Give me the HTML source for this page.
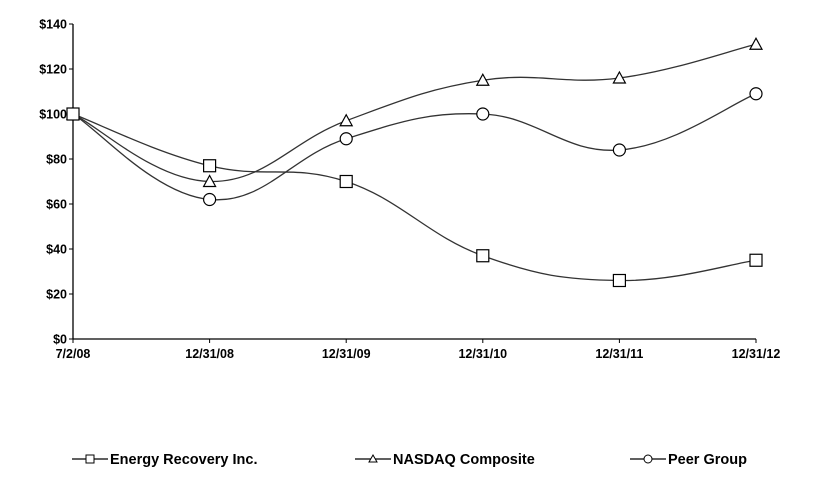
<!DOCTYPE html>
<html><head><meta charset="utf-8"><style>
body{margin:0;background:#fff;}
svg{display:block;font-family:"Liberation Sans",Arial,sans-serif;}
</style></head><body>
<svg width="816" height="478" viewBox="0 0 816 478">
<g id="axes"></g><g id="series"></g><g id="legend"></g>
</svg>
<script>
const categories=["7/2/08","12/31/08","12/31/09","12/31/10","12/31/11","12/31/12"];
const energyValues=[100,77,70,37,26,35];
const nasdaqValues=[100,70,97,115,116,131];
const peerValues=[100,62,89,100,84,109];
const yTicks=[0,20,40,60,80,100,120,140];
const seriesNames=["Energy Recovery Inc.","NASDAQ Composite","Peer Group"];
const NS="http://www.w3.org/2000/svg";
const X0=73,X1=756,Y0=339,Y1=24,YMAX=140;
const xs=i=>X0+(X1-X0)*i/(categories.length-1);
const ys=v=>Y0-(Y0-Y1)*v/YMAX;
function mk(t,a,p){const e=document.createElementNS(NS,t);for(const k in a)e.setAttribute(k,a[k]);p.appendChild(e);return e;}
const ax=document.getElementById('axes');
const yl=mk('line',{x1:X0,y1:Y0,x2:X0,y2:Y1,stroke:'#000','stroke-width':1.3},ax);

const xl=mk('line',{x1:X0,y1:Y0,x2:X1,y2:Y0,stroke:'#000','stroke-width':1.3},ax);

yTicks.forEach(v=>{
 mk('line',{x1:X0-4,y1:ys(v),x2:X0,y2:ys(v),stroke:'#000'},ax);
 const t=mk('text',{x:X0-6,y:ys(v)+4.5,'text-anchor':'end','font-size':12.5,'font-weight':'bold'},ax);
 t.textContent='$'+v;
 
});
categories.forEach((c,i)=>{
 mk('line',{x1:xs(i),y1:Y0,x2:xs(i),y2:Y0+4,stroke:'#000'},ax);
 const t=mk('text',{x:xs(i),y:Y0+19,'text-anchor':'middle','font-size':12.5,'font-weight':'bold'},ax);
 t.textContent=c;
 
});
function smooth(pts){let d=`M${pts[0][0]},${pts[0][1]}`;
 for(let i=0;i<pts.length-1;i++){const p0=pts[i-1]||pts[i],p1=pts[i],p2=pts[i+1],p3=pts[i+2]||p2;
  const k=0.2;
  d+=` C${p1[0]+(p2[0]-p0[0])*k},${p1[1]+(p2[1]-p0[1])*k} ${p2[0]-(p3[0]-p1[0])*k},${p2[1]-(p3[1]-p1[1])*k} ${p2[0]},${p2[1]}`;}
 return d;}
function marker(type,x,y,g){
 if(type==='square')return mk('rect',{x:x-6,y:y-6,width:12,height:12,fill:'#fff',stroke:'#000','stroke-width':1.2},g);
 if(type==='triangle')return mk('path',{d:`M${x},${y-6}L${x+6},${y+5}L${x-6},${y+5}Z`,fill:'#fff',stroke:'#000','stroke-width':1.2},g);
 return mk('circle',{cx:x,cy:y,r:6,fill:'#fff',stroke:'#000','stroke-width':1.2},g);}
const sg=document.getElementById('series');
const defs=[[peerValues,'circle','peer-group'],[nasdaqValues,'triangle','nasdaq-composite'],[energyValues,'square','energy-recovery']];
defs.forEach(([vals,type,name])=>{
 const g=mk('g',{},sg);
 
 const pts=vals.map((v,i)=>[xs(i),ys(v)]);
 const p=mk('path',{d:smooth(pts),fill:'none',stroke:'#333','stroke-width':1.3},g);
 
 pts.forEach(pt=>{const m=marker(type,pt[0],pt[1],g);
  });
});
const lg=document.getElementById('legend');
const lpos=[[72,'square','energy-recovery'],[355,'triangle','nasdaq-composite'],[630,'circle','peer-group']];
lpos.forEach(([x,type,name],i)=>{
 const g=mk('g',{},lg);
 
 mk('line',{x1:x,y1:459,x2:x+36,y2:459,stroke:'#000','stroke-width':1.2},g);
 const m=type==='square'?mk('rect',{x:x+14,y:455,width:8,height:8,fill:'#fff',stroke:'#000'},g):
  type==='triangle'?mk('path',{d:`M${x+18},${455}L${x+22},${462}L${x+14},${462}Z`,fill:'#fff',stroke:'#000'},g):
  mk('circle',{cx:x+18,cy:459,r:4,fill:'#fff',stroke:'#000'},g);
 const t=mk('text',{x:x+38,y:464,'font-size':14.5,'font-weight':'bold'},g);
 t.textContent=seriesNames[i];
});
</script>
</body></html>
